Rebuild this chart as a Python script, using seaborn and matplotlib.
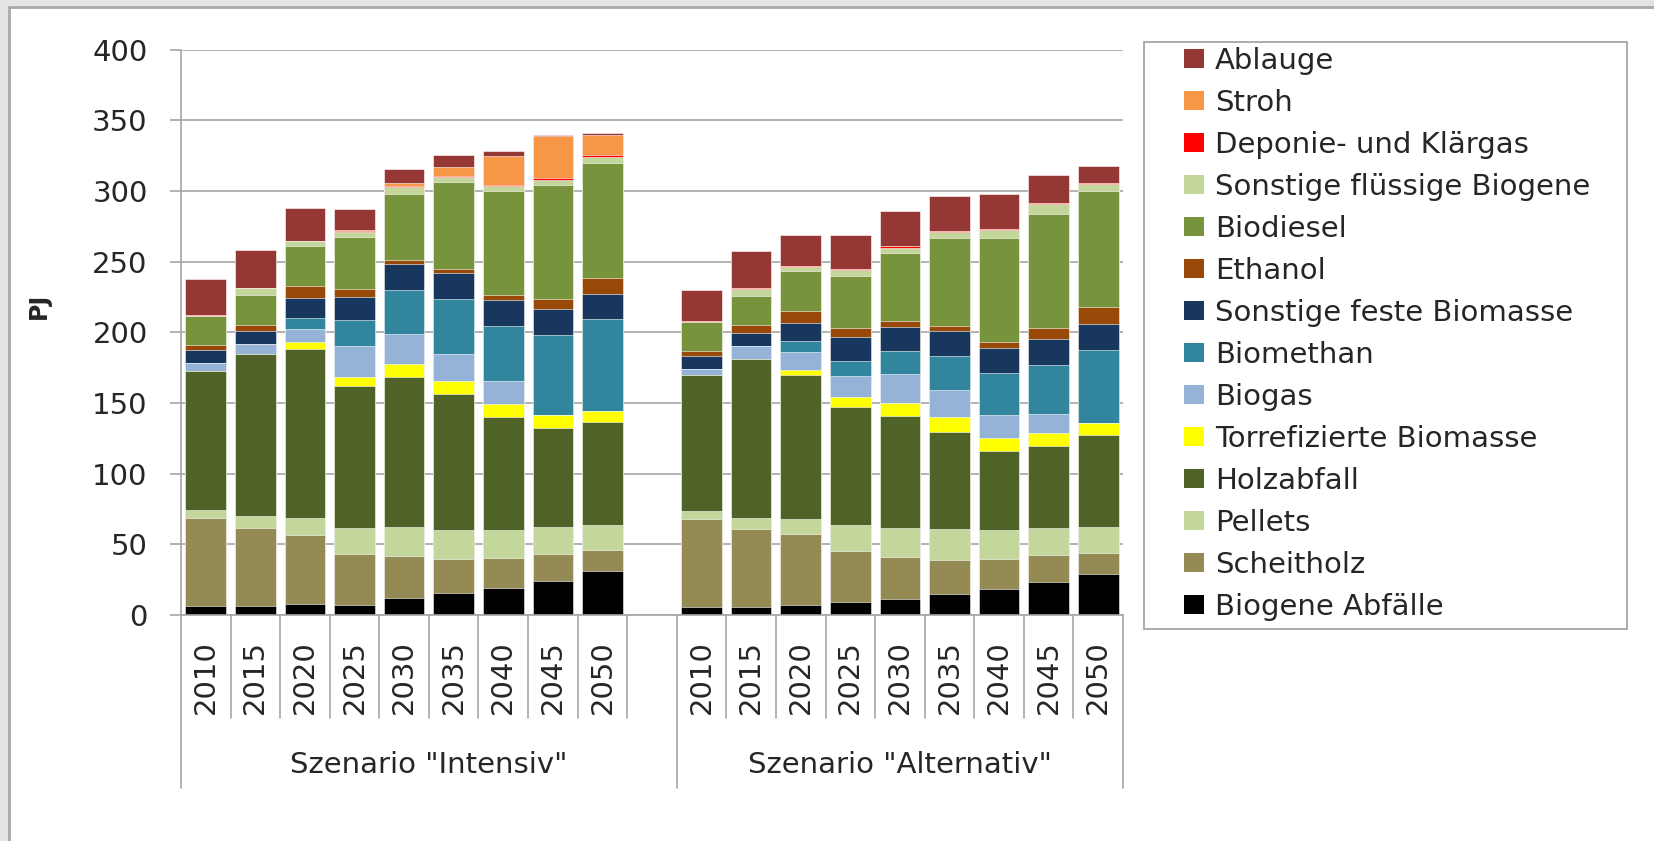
import numpy as np
import pandas as pd
import matplotlib.pyplot as plt
import seaborn as sns
from matplotlib.patches import Patch, Rectangle
from matplotlib.lines import Line2D

# --- data (PJ), 9 years Intensiv then 9 years Alternativ ---
years = ['2010', '2015', '2020', '2025', '2030', '2035', '2040', '2045', '2050']
scenarios = ['Szenario "Intensiv"', 'Szenario "Alternativ"']

biogene_abfaelle = [6.1, 6.1, 7.8, 7.1, 11.8, 15.3, 18.9, 24.3, 31.4,
                    5.4, 5.4, 7.3, 9.0, 11.1, 14.6, 18.2, 23.6, 28.8]
scheitholz = [62.5, 55.2, 49.1, 36.3, 29.7, 24.3, 21.7, 19.1, 14.4,
              62.6, 55.5, 49.8, 36.4, 29.8, 24.3, 21.7, 18.9, 14.9]
pellets = [5.7, 8.5, 11.8, 18.2, 20.8, 20.8, 19.8, 18.9, 18.2,
           5.4, 8.0, 10.9, 18.2, 21.0, 21.7, 20.1, 19.1, 18.9]
holzabfall = [98.6, 114.9, 119.6, 100.5, 105.9, 96.0, 80.0, 69.8, 72.6,
              96.2, 112.4, 101.6, 83.6, 78.7, 69.0, 56.2, 58.1, 64.5]
torrefiziert = [0, 0, 4.7, 6.4, 9.2, 9.2, 9.0, 9.4, 8.0,
                0, 0, 4.0, 7.1, 9.2, 10.2, 9.2, 9.0, 9.0]
biogas = [5.4, 7.1, 9.0, 21.7, 21.7, 18.9, 16.3, 0, 0,
          4.7, 9.0, 12.5, 14.6, 20.8, 19.1, 16.1, 13.7, 0]
biomethan = [0, 0, 8.0, 18.2, 30.9, 39.2, 38.9, 56.8, 64.6,
             0, 0, 8.0, 10.9, 16.3, 24.3, 30.0, 34.5, 51.7]
sonst_feste = [9.2, 9.2, 14.4, 16.3, 18.2, 18.2, 18.2, 18.2, 17.9,
               9.0, 9.2, 12.8, 17.0, 17.2, 18.0, 17.2, 18.2, 18.4]
ethanol = [3.5, 4.5, 8.3, 6.1, 2.6, 2.8, 3.8, 7.1, 11.1,
           3.5, 5.4, 8.0, 6.4, 3.8, 3.1, 4.5, 8.0, 11.8]
biodiesel = [20.3, 21.0, 28.3, 36.6, 47.2, 61.6, 73.1, 80.7, 81.4,
             20.3, 21.0, 28.3, 36.4, 48.2, 62.6, 73.7, 80.8, 82.2]
sonst_fluessig = [0.5, 4.5, 3.3, 3.5, 4.7, 3.3, 3.8, 3.5, 4.7,
                  0.5, 4.7, 3.3, 4.7, 3.5, 4.0, 5.2, 7.1, 4.7]
deponie = [0.5, 0.5, 0.5, 0.8, 0.9, 1.2, 0.9, 1.2, 0.9,
           0.7, 0.7, 0.7, 0.7, 1.5, 0.7, 0.7, 0.7, 0.7]
stroh = [0, 0, 0, 0.7, 1.7, 6.1, 20.0, 29.7, 14.6,
         0, 0, 0, 0, 0, 0, 0, 0, 0]
ablauge = [25.5, 26.7, 23.3, 15.1, 9.9, 8.3, 3.8, 1.2, 0.9,
           21.3, 26.5, 21.3, 23.6, 24.6, 25.0, 25.0, 19.8, 12.3]

sources = ['Biogene Abfälle', 'Scheitholz', 'Pellets', 'Holzabfall',
           'Torrefizierte Biomasse', 'Biogas', 'Biomethan', 'Sonstige feste Biomasse',
           'Ethanol', 'Biodiesel', 'Sonstige flüssige Biogene', 'Deponie- und Klärgas',
           'Stroh', 'Ablauge']
series = [biogene_abfaelle, scheitholz, pellets, holzabfall, torrefiziert, biogas,
          biomethan, sonst_feste, ethanol, biodiesel, sonst_fluessig, deponie, stroh, ablauge]
colors = ['#000000', '#948A54', '#C3D69B', '#4F6228', '#FFFF00', '#95B3D7',
          '#31859C', '#17375E', '#984807', '#77933C', '#C3D69B', '#FF0000',
          '#F79646', '#953735']

# slot keys: 9 Intensiv, one empty slot, 9 Alternativ
keys = [f'I{y}' for y in years] + [f'A{y}' for y in years]
order = keys[:9] + ['gap'] + keys[9:]
tick_labels = years + [''] + years

df = pd.DataFrame(np.array(series).T, columns=sources)
cum = df.cumsum(axis=1)
cum['slot'] = keys

sns.set_style('white')
plt.rcParams['font.family'] = ['DejaVu Sans']

fig = plt.figure(figsize=(16.54, 8.41), dpi=100)
fig.patch.set_facecolor('white')
W, H = 1654, 841
# screenshot frame on left and top
fig.patches.append(Rectangle((0, 0), 8 / W, 1, transform=fig.transFigure,
                             facecolor='#e4e4e4', edgecolor='none', zorder=-5))
fig.patches.append(Rectangle((0, 1 - 6 / H), 1, 6 / H, transform=fig.transFigure,
                             facecolor='#e4e4e4', edgecolor='none', zorder=-5))
fig.lines.append(Line2D([9 / W, 9 / W], [0, 1 - 6.5 / H], transform=fig.transFigure,
                        color='#a8a8a8', lw=2))
fig.lines.append(Line2D([9 / W, 1], [1 - 6.5 / H, 1 - 6.5 / H], transform=fig.transFigure,
                        color='#a8a8a8', lw=2))

ax = fig.add_axes([181 / W, 1 - 615 / H, (1123 - 181) / W, (615 - 49.6) / H])

# stacked bars: draw cumulative totals from the top layer down
for src, col in zip(sources[::-1], colors[::-1]):
    sns.barplot(data=cum, x='slot', y=src, order=order, color=col, width=0.82,
                saturation=1, edgecolor='white', linewidth=0.4, ax=ax)

ax.set_ylim(0, 400)
ax.set_xlim(-0.5, 18.5)
ax.set_yticks(range(0, 401, 50))
ax.yaxis.grid(True, color='#a6a6a6', lw=1.2)
ax.set_axisbelow(True)
for s in ['top', 'right', 'left']:
    ax.spines[s].set_visible(False)
ax.spines['bottom'].set_color('#a6a6a6')
ax.spines['bottom'].set_linewidth(1.2)
ax.tick_params(axis='y', length=8, width=1.2, color='#a6a6a6', pad=16,
               labelsize=21, direction='out', left=True)
ax.set_xticks(range(19))
ax.set_xticklabels(tick_labels, rotation=90, fontsize=21)
ax.tick_params(axis='x', length=0, pad=18)
ax.set_xlabel('')
ax.set_ylabel('')

# category separators under the axis
tr = ax.get_xaxis_transform()
for b in [i + 0.5 for i in range(9)] + [i + 0.5 for i in range(10, 18)]:
    ax.plot([b, b], [0, -0.182], transform=tr, color='#a6a6a6', lw=1.2, clip_on=False)
ax.plot([-0.5, -0.5], [1, -0.306], transform=tr, color='#a6a6a6', lw=1.2, clip_on=False)
for b in [9.5, 18.5]:
    ax.plot([b, b], [0, -0.306], transform=tr, color='#a6a6a6', lw=1.2, clip_on=False)
ax.text(4.5, -0.265, scenarios[0], transform=tr, ha='center', va='center', fontsize=21)
ax.text(14, -0.265, scenarios[1], transform=tr, ha='center', va='center', fontsize=21)

fig.text(39 / W, 1 - 306 / H, 'PJ', rotation=90, ha='center', va='center',
         fontsize=17, fontweight='bold')

# legend
handles = [Patch(facecolor=c, edgecolor='none') for c in colors[::-1]]
fig.legend(handles, sources[::-1], loc='upper left',
           bbox_to_anchor=(1183.5 / W, 1 - 47 / H), frameon=False, fontsize=21,
           borderpad=0, borderaxespad=0, handlelength=0.7, handleheight=0.62,
           handletextpad=0.37, labelspacing=0.48)
fig.patches.append(Rectangle((1144 / W, 1 - 629 / H), (1627 - 1144) / W, (629 - 42) / H,
                             transform=fig.transFigure, facecolor='none',
                             edgecolor='#a6a6a6', lw=1.3))

fig.savefig('out.png', dpi=100)
